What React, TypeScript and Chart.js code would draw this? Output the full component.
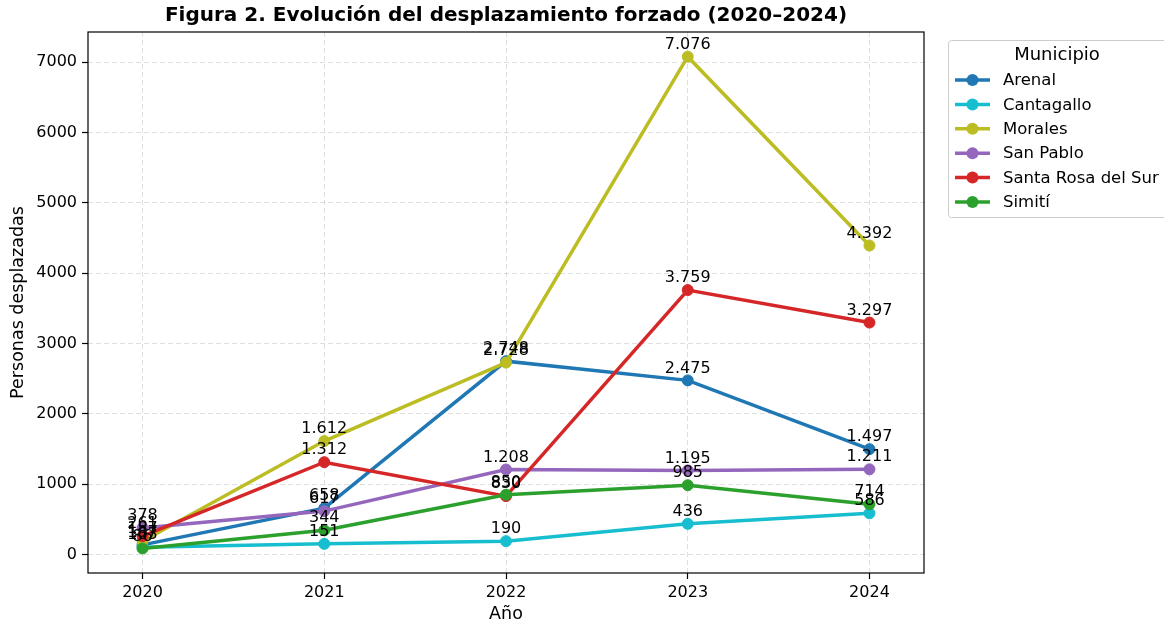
import React, { useEffect, useRef } from "react";
import { Chart, registerables } from "chart.js";

Chart.register(...registerables);

const years = [2020, 2021, 2022, 2023, 2024];
const municipios = ["Arenal", "Cantagallo", "Morales", "San Pablo", "Santa Rosa del Sur", "Simití"];
const colors = ["#1f77b4", "#17becf", "#bcbd22", "#9467bd", "#d62728", "#2ca02c"];
const arenal = [137, 658, 2748, 2475, 1497];
const cantagallo = [103, 151, 190, 436, 586];
const morales = [187, 1612, 2728, 7076, 4392];
const sanPablo = [378, 617, 1208, 1195, 1211];
const santaRosa = [261, 1312, 830, 3759, 3297];
const simiti = [86, 344, 850, 985, 714];
const seriesValues = [arenal, cantagallo, morales, sanPablo, santaRosa, simiti];
const yTicks = [0, 1000, 2000, 3000, 4000, 5000, 6000, 7000];

const FONT = "'DejaVu Sans', sans-serif";

function fmt(n: number): string {
  const s = String(Math.round(n));
  return s.replace(/\B(?=(\d{3})+(?!\d))/g, ".");
}

const overlay = {
  id: "overlay",
  afterDatasetsDraw(chart: any) {
    const ctx = chart.ctx as CanvasRenderingContext2D;
    ctx.save();
    ctx.font = `16px ${FONT}`;
    ctx.fillStyle = "#000";
    ctx.textAlign = "center";
    ctx.textBaseline = "bottom";
    chart.data.datasets.forEach((ds: any, i: number) => {
      const meta = chart.getDatasetMeta(i);
      meta.data.forEach((pt: any, j: number) => {
        ctx.fillText(fmt(ds.data[j].y), pt.x, pt.y - 4);
      });
    });
    ctx.restore();
  },
  afterDraw(chart: any) {
    const ctx = chart.ctx as CanvasRenderingContext2D;
    const a = chart.chartArea;
    ctx.save();
    // frame
    ctx.strokeStyle = "#000";
    ctx.lineWidth = 1.2;
    ctx.strokeRect(a.left, a.top, a.right - a.left, a.bottom - a.top);
    // title
    ctx.fillStyle = "#000";
    ctx.textAlign = "center";
    ctx.textBaseline = "middle";
    ctx.font = `bold 20px ${FONT}`;
    ctx.fillText("Figura 2. Evolución del desplazamiento forzado (2020–2024)", (a.left + a.right) / 2, 16);
    // axis titles
    ctx.font = `17.5px ${FONT}`;
    ctx.fillText("Año", (a.left + a.right) / 2, 614);
    ctx.save();
    ctx.translate(18, (a.top + a.bottom) / 2);
    ctx.rotate(-Math.PI / 2);
    ctx.fillText("Personas desplazadas", 0, 0);
    ctx.restore();
    // legend
    const lx = 948, ly = 40, lw = 230, lh = 177;
    ctx.fillStyle = "rgba(255,255,255,0.9)";
    ctx.strokeStyle = "#cccccc";
    ctx.lineWidth = 1;
    ctx.beginPath();
    (ctx as any).roundRect ? (ctx as any).roundRect(lx + 0.5, ly + 0.5, lw, lh, 3) : ctx.rect(lx + 0.5, ly + 0.5, lw, lh);
    ctx.fill();
    ctx.stroke();
    ctx.fillStyle = "#000";
    ctx.font = `18px ${FONT}`;
    ctx.textAlign = "center";
    ctx.fillText("Municipio", 1057, 55);
    ctx.textAlign = "left";
    ctx.font = `16.5px ${FONT}`;
    municipios.forEach((m, i) => {
      const y = 80 + i * 24.4;
      ctx.strokeStyle = colors[i];
      ctx.lineWidth = 3.5;
      ctx.beginPath();
      ctx.moveTo(955, y);
      ctx.lineTo(990, y);
      ctx.stroke();
      ctx.fillStyle = colors[i];
      ctx.beginPath();
      ctx.arc(972.5, y, 6, 0, Math.PI * 2);
      ctx.fill();
      ctx.fillStyle = "#000";
      ctx.fillText(m, 1003, y + 1);
    });
    ctx.restore();
  },
};

export default function App() {
  const ref = useRef<HTMLCanvasElement | null>(null);
  useEffect(() => {
    document.body.style.margin = "0";
    const canvas = ref.current!;
    const chart = new Chart(canvas, {
      type: "line",
      data: {
        datasets: municipios.map((m, i) => ({
          label: m,
          data: years.map((yr, j) => ({ x: yr, y: seriesValues[i][j] })),
          borderColor: colors[i],
          backgroundColor: colors[i],
          pointBackgroundColor: colors[i],
          pointBorderColor: colors[i],
          borderWidth: 3.5,
          pointRadius: 5.5,
          pointBorderWidth: 1,
          tension: 0,
          fill: false,
          order: 6 - i,
        })),
      },
      options: {
        responsive: false,
        animation: false,
        layout: { padding: { left: 0, top: 32, right: 240, bottom: 0 } },
        plugins: {
          legend: { display: false },
          title: { display: false },
          tooltip: { enabled: false },
        },
        scales: {
          x: {
            type: "linear",
            min: 2019.7,
            max: 2024.3,
            afterBuildTicks: (s: any) => {
              s.ticks = years.map((v) => ({ value: v }));
            },
            afterFit: (s: any) => {
              s.height = 54;
            },
            ticks: {
              font: { family: FONT, size: 16 },
              color: "#000",
              padding: 4,
              callback: (v: any) => String(v),
            },
            grid: {
              color: "rgba(176,176,176,0.4)",
              lineWidth: 1,
              tickColor: "#000",
              tickLength: 6,
              tickWidth: 1.2,
            },
            border: { display: false, dash: [5, 3] },
          },
          y: {
            min: -263,
            max: 7427,
            afterBuildTicks: (s: any) => {
              s.ticks = yTicks.map((v) => ({ value: v }));
            },
            afterFit: (s: any) => {
              s.width = 88;
            },
            ticks: {
              font: { family: FONT, size: 16 },
              color: "#000",
              padding: 5,
              callback: (v: any) => String(v),
            },
            grid: {
              color: "rgba(176,176,176,0.4)",
              lineWidth: 1,
              tickColor: "#000",
              tickLength: 6,
              tickWidth: 1.2,
            },
            border: { display: false, dash: [5, 3] },
          },
        },
      },
      plugins: [overlay],
    });
    return () => chart.destroy();
  }, []);
  return <canvas ref={ref} width={1164} height={627} style={{ display: "block" }} />;
}
